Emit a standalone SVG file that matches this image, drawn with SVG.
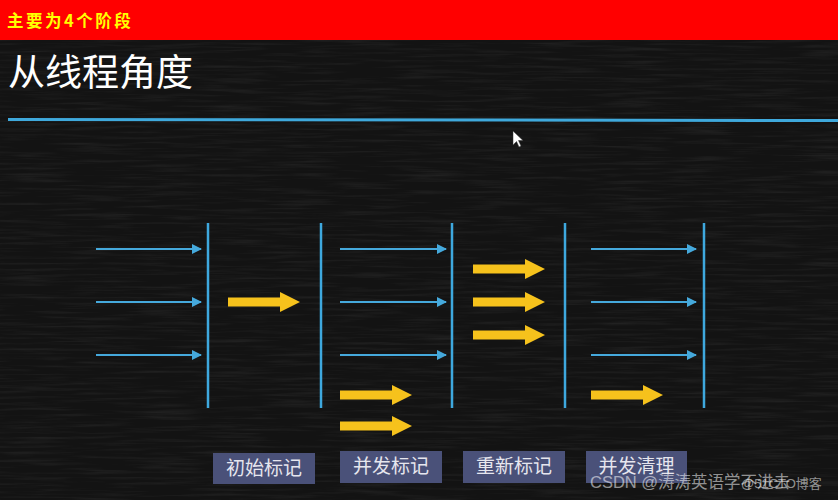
<svg xmlns="http://www.w3.org/2000/svg" width="838" height="500" viewBox="0 0 838 500">
  <defs>
    <style>
      .thread { stroke: #45a9dc; stroke-width: 2; fill: none; marker-end: url(#bh); }
      .bar { stroke: #3ea8de; stroke-width: 2.5; fill: none; }
      .ya { fill: #f6c21c; }
      .box { fill: #4a5179; }
      .lbl { font-family: "Noto Sans CJK SC", "Liberation Serif", serif; font-size: 19px; fill: #e6e6ee; text-anchor: middle; }
      .wm { font-family: "Liberation Sans", "Noto Sans CJK SC", sans-serif; fill: #ffffff; fill-opacity: 0.55; }
    </style>
    <marker id="bh" viewBox="0 0 10 10" refX="9" refY="5" markerWidth="5" markerHeight="5" orient="auto" markerUnits="strokeWidth">
      <path d="M0,0 L10,5 L0,10 Z" fill="#45a9dc"/>
    </marker>
    <path id="yarrow" d="M0,-4.5 H52 V-10 L72,0 L52,10 V4.5 H0 Z"/>
    <filter id="chalk" x="0" y="0" width="100%" height="100%">
      <feTurbulence type="fractalNoise" baseFrequency="0.015 0.35" numOctaves="3" seed="7"/>
      <feColorMatrix type="matrix" values="0 0 0 0 1  0 0 0 0 1  0 0 0 0 1  0 0 0 0.9 -0.4"/>
    </filter>
  </defs>

  <!-- background -->
  <rect x="0" y="0" width="838" height="500" fill="#131313"/>
  <rect x="0" y="40" width="838" height="460" filter="url(#chalk)" opacity="0.14"/>

  <!-- header bar -->
  <g id="header">
    <rect x="0" y="0" width="838" height="40" fill="#ff0000"/>
    <text x="7" y="27" font-family="Noto Sans CJK SC, Liberation Serif, serif" font-size="16.5" font-weight="bold" letter-spacing="2.5" fill="#ffff00">主要为4个阶段</text>
  </g>

  <!-- title -->
  <g id="title">
    <text x="8" y="86" font-family="Noto Sans CJK SC, Liberation Sans, sans-serif" font-size="37" fill="#ffffff">从线程角度</text>
    <line x1="8" y1="119.5" x2="838" y2="120.5" stroke="#3fa9dc" stroke-width="3"/>
  </g>

  <!-- phase barriers -->
  <g id="barriers">
    <line class="bar" x1="208" y1="223" x2="208" y2="408"/>
    <line class="bar" x1="321" y1="223" x2="321" y2="408"/>
    <line class="bar" x1="452" y1="223" x2="452" y2="408"/>
    <line class="bar" x1="565" y1="223" x2="565" y2="408"/>
    <line class="bar" x1="704" y1="223" x2="704" y2="408"/>
  </g>

  <!-- connectors: user threads (blue) and GC threads (yellow) -->
  <g id="connectors">
    <line class="thread" x1="96" y1="249" x2="201" y2="249"/>
    <line class="thread" x1="96" y1="302" x2="201" y2="302"/>
    <line class="thread" x1="96" y1="355" x2="201" y2="355"/>

    <line class="thread" x1="340" y1="249" x2="446" y2="249"/>
    <line class="thread" x1="340" y1="302" x2="446" y2="302"/>
    <line class="thread" x1="340" y1="355" x2="446" y2="355"/>

    <line class="thread" x1="591" y1="249" x2="696" y2="249"/>
    <line class="thread" x1="591" y1="302" x2="696" y2="302"/>
    <line class="thread" x1="591" y1="355" x2="696" y2="355"/>

    <use href="#yarrow" class="ya" x="228" y="302"/>
    <use href="#yarrow" class="ya" x="340" y="395"/>
    <use href="#yarrow" class="ya" x="340" y="426"/>
    <use href="#yarrow" class="ya" x="473" y="269"/>
    <use href="#yarrow" class="ya" x="473" y="302"/>
    <use href="#yarrow" class="ya" x="473" y="335"/>
    <use href="#yarrow" class="ya" x="591" y="395"/>
  </g>

  <!-- stage labels -->
  <g id="stage-initial-mark">
    <rect class="box" x="213" y="453" width="102" height="31"/>
    <text class="lbl" x="264" y="475">初始标记</text>
  </g>
  <g id="stage-concurrent-mark">
    <rect class="box" x="340" y="451" width="102" height="32"/>
    <text class="lbl" x="391" y="473">并发标记</text>
  </g>
  <g id="stage-remark">
    <rect class="box" x="463" y="451" width="102" height="32"/>
    <text class="lbl" x="514" y="473">重新标记</text>
  </g>
  <g id="stage-concurrent-sweep">
    <rect class="box" x="586" y="451" width="101" height="32"/>
    <text class="lbl" x="636.5" y="473">并发清理</text>
  </g>

  <!-- mouse cursor -->
  <path d="M513,131 L513,145 L516.5,141.5 L519,147 L521,146 L518.5,140.5 L523,140.5 Z" fill="#ffffff" stroke="#333" stroke-width="0.5"/>

  <!-- watermarks -->
  <text class="wm" x="590" y="488" font-size="16.5">CSDN @涛涛英语学不进去</text>
  <text class="wm" x="741" y="488" font-size="13">@51CTO博客</text>
</svg>
